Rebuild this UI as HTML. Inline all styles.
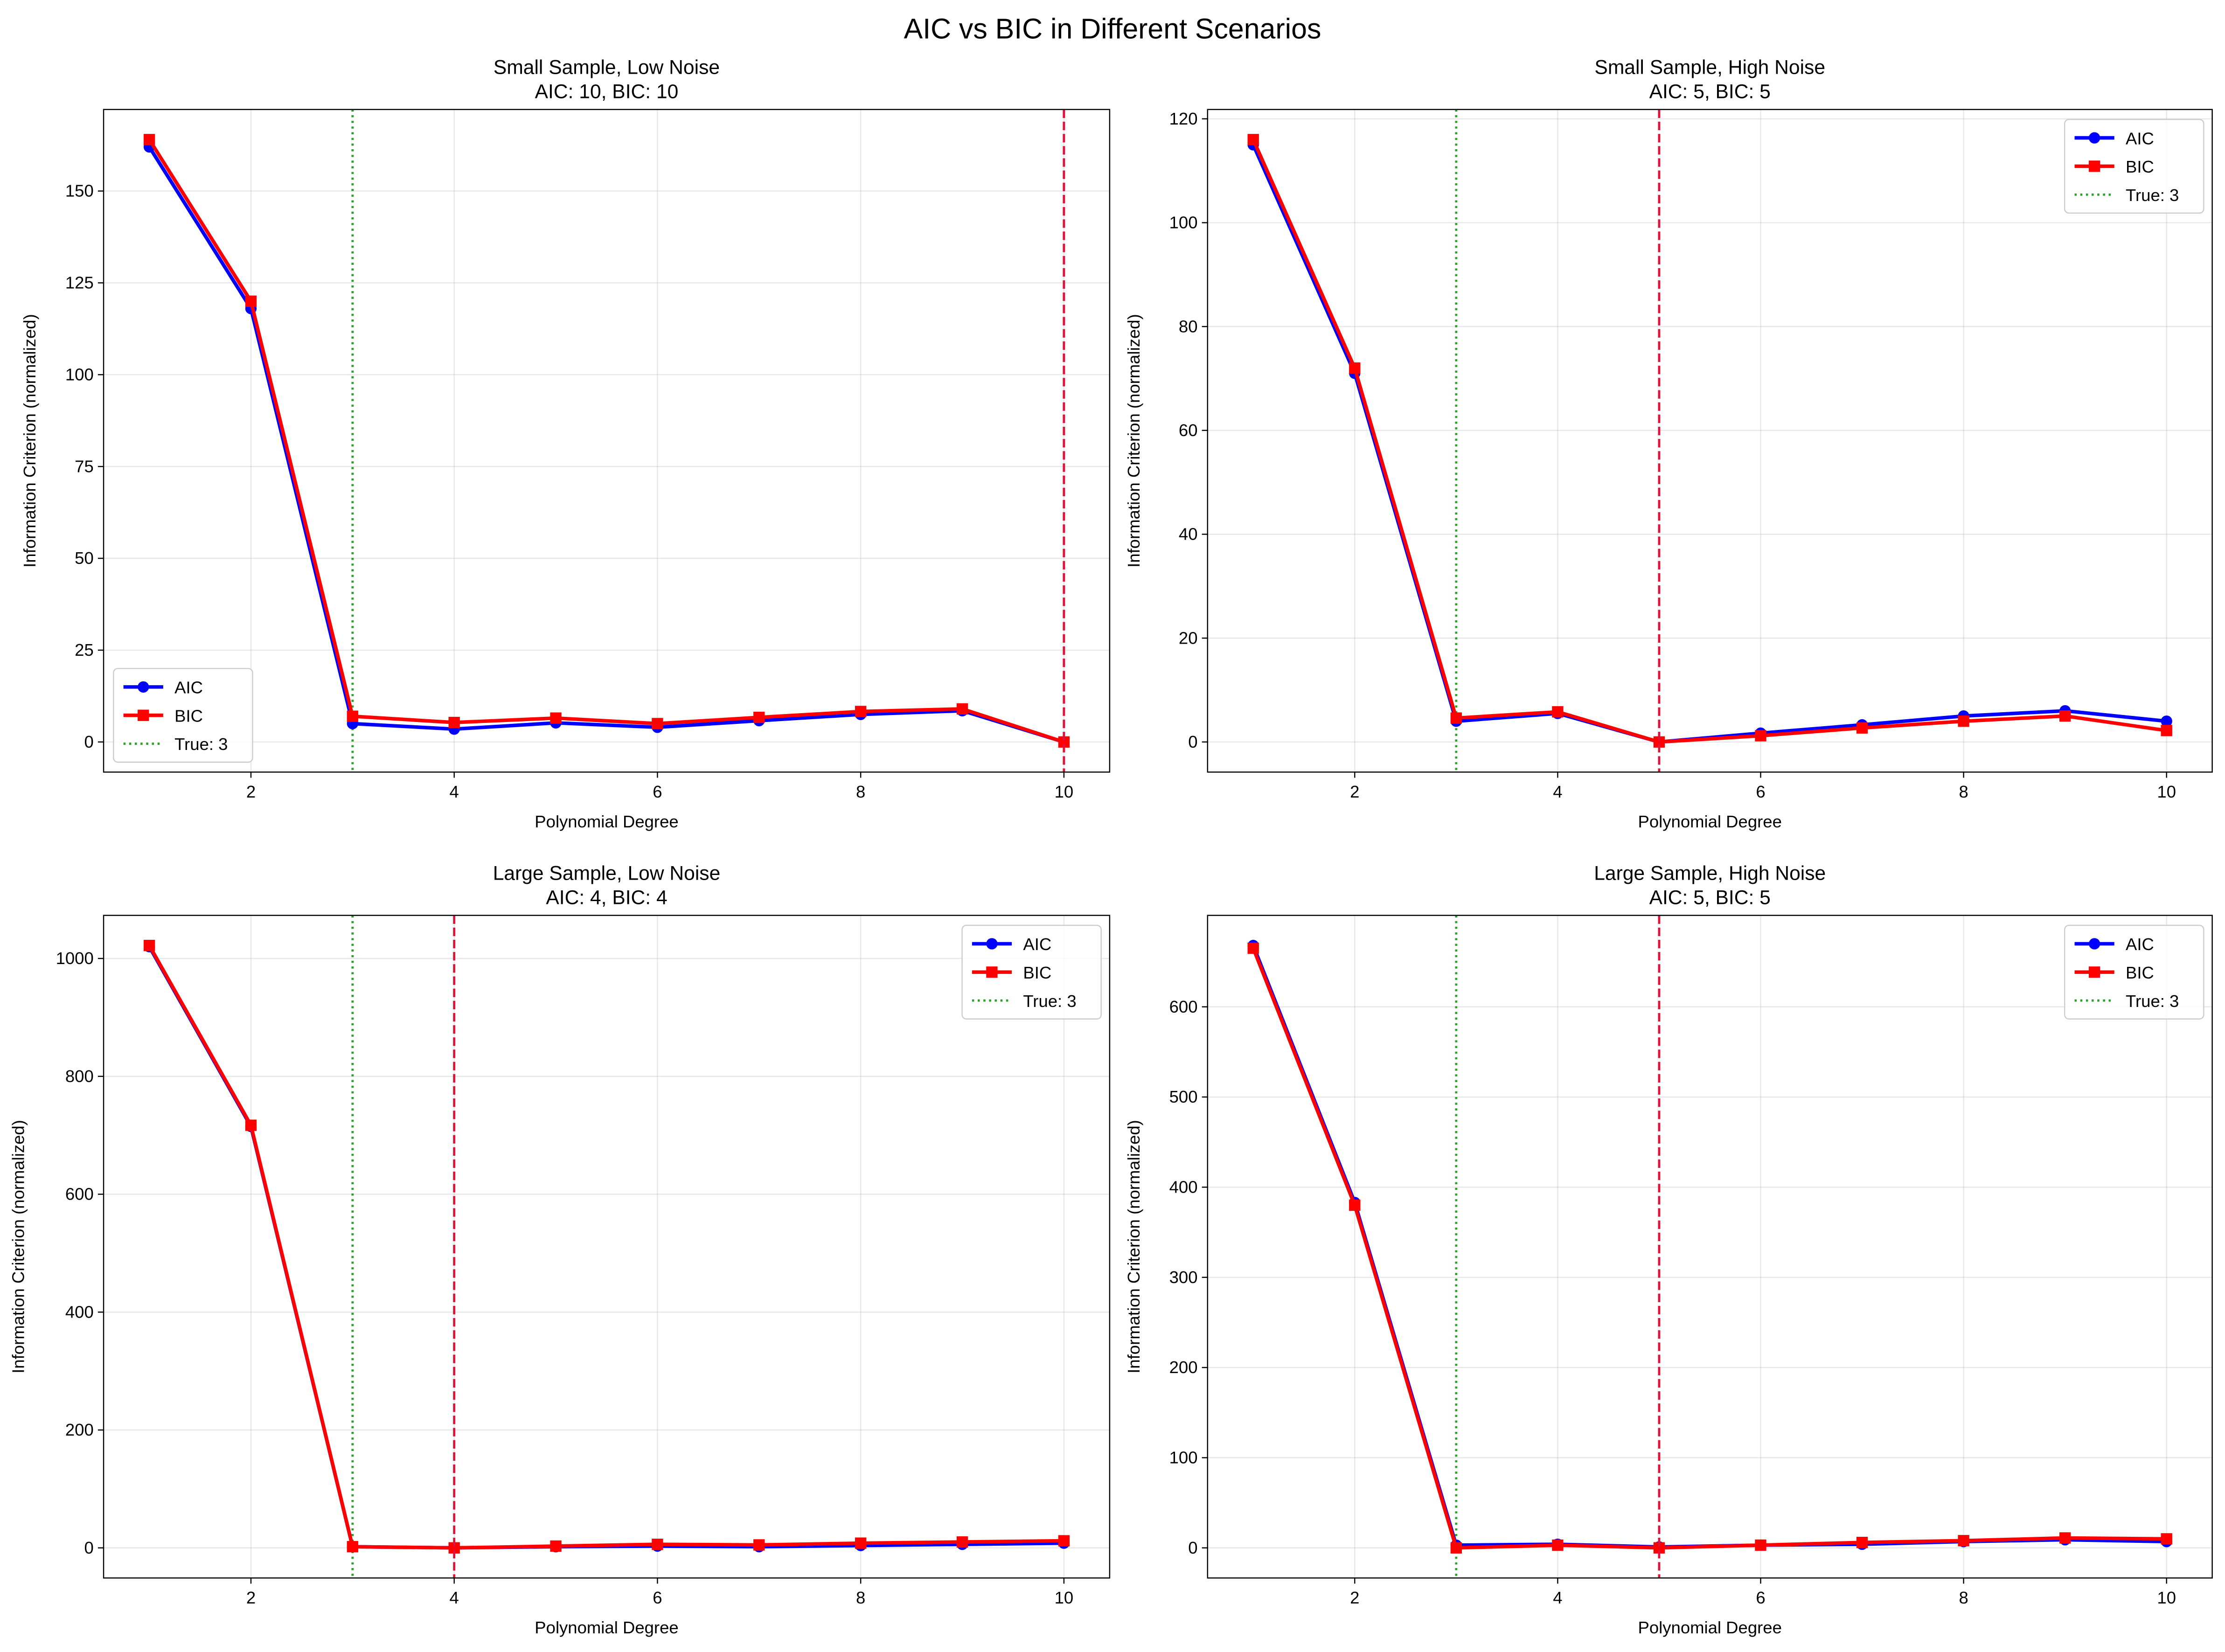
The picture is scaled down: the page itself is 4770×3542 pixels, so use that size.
<!DOCTYPE html>
<html><head><meta charset="utf-8"><style>
html,body{margin:0;padding:0;background:#fff}
svg{display:block}
text{font-family:"Liberation Sans","DejaVu Sans",sans-serif;fill:#000}
</style></head><body>
<svg id="chart" width="4770" height="3542" viewBox="0 0 1568 1164" xmlns="http://www.w3.org/2000/svg">
<rect width="1568" height="1164" fill="#fff"/>
<text x="784" y="27" font-size="20" text-anchor="middle">AIC vs BIC in Different Scenarios</text>
</svg>
<script>
const degrees = [1,2,3,4,5,6,7,8,9,10];
const tlAIC = [162,118,5,3.5,5.2,4,5.8,7.5,8.5,0];
const tlBIC = [164,120,7,5.3,6.5,5,6.7,8.3,9,0];
const trAIC = [115,71,4,5.5,0,1.7,3.3,5,6,4];
const trBIC = [116,72,4.6,5.8,0,1.2,2.7,4,5,2.2];
const blAIC = [1020,715,2,0,2,3,2,4,6,8];
const blBIC = [1022,717,2,0,3,6,5,8,10,12];
const brAIC = [668,383,3,4,1,3,4,7,9,7];
const brBIC = [665,380,0,3,0,3,6,8,11,10];
const xTicks = [2,4,6,8,10];
const tlTicks = [0,25,50,75,100,125,150];
const trTicks = [0,20,40,60,80,100,120];
const blTicks = [0,200,400,600,800,1000];
const brTicks = [0,100,200,300,400,500,600];
const trueDegree = 3;
const selected = [10,5,4,5];
const titles = [["Small Sample, Low Noise","AIC: 10, BIC: 10"],["Small Sample, High Noise","AIC: 5, BIC: 5"],["Large Sample, Low Noise","AIC: 4, BIC: 4"],["Large Sample, High Noise","AIC: 5, BIC: 5"]];

const svg = document.getElementById('chart');
const NS = 'http://www.w3.org/2000/svg';
function mk(tag, attrs, parent){const e=document.createElementNS(NS,tag);for(const k in attrs)e.setAttribute(k,attrs[k]);(parent||svg).appendChild(e);return e;}

const panels = [
 {x0:73,x1:782,y0:77,y1:544,aic:tlAIC,bic:tlBIC,ticks:tlTicks,legend:'bl',ylx:25,name:'small-low'},
 {x0:851,x1:1559,y0:77,y1:544,aic:trAIC,bic:trBIC,ticks:trTicks,legend:'tr',ylx:803,name:'small-high'},
 {x0:73,x1:782,y0:645,y1:1112,aic:blAIC,bic:blBIC,ticks:blTicks,legend:'tr',ylx:17,name:'large-low'},
 {x0:851,x1:1559,y0:645,y1:1112,aic:brAIC,bic:brBIC,ticks:brTicks,legend:'tr',ylx:803,name:'large-high'}
];

panels.forEach((p,i)=>{
  const g = mk('g',{});
  
  
  const all = p.aic.concat(p.bic);
  const mn = Math.min(...all), mx = Math.max(...all), pad=(mx-mn)*0.05;
  const ylo=mn-pad, yhi=mx+pad;
  const xlo=0.55, xhi=10.45;
  const X = v=>p.x0+(v-xlo)/(xhi-xlo)*(p.x1-p.x0);
  const Y = v=>p.y1-(v-ylo)/(yhi-ylo)*(p.y1-p.y0);
  // grid
  xTicks.forEach(t=>{const l=mk('line',{x1:X(t),x2:X(t),y1:p.y0,y2:p.y1,stroke:'#b0b0b0','stroke-opacity':0.3,'stroke-width':0.8},g);
    });
  p.ticks.forEach(t=>{const l=mk('line',{x1:p.x0,x2:p.x1,y1:Y(t),y2:Y(t),stroke:'#b0b0b0','stroke-opacity':0.3,'stroke-width':0.8},g);
    });
  // ticks & labels
  xTicks.forEach(t=>{mk('line',{x1:X(t),x2:X(t),y1:p.y1,y2:p.y1+4,stroke:'#000','stroke-width':0.8},g);
    const tx=mk('text',{x:X(t),y:p.y1+18,'font-size':12,'text-anchor':'middle'},g);tx.textContent=t;
    });
  p.ticks.forEach(t=>{mk('line',{x1:p.x0-4,x2:p.x0,y1:Y(t),y2:Y(t),stroke:'#000','stroke-width':0.8},g);
    const tx=mk('text',{x:p.x0-7,y:Y(t)+4,'font-size':12,'text-anchor':'end'},g);tx.textContent=t;
    });
  // vertical lines
  const vt=mk('line',{x1:X(trueDegree),x2:X(trueDegree),y1:p.y0,y2:p.y1,stroke:'#2ca02c','stroke-width':1.6,'stroke-dasharray':'1.5,2.5'},g);
  
  // series
  function series(vals,color,marker,nm){
    const pl=mk('polyline',{points:degrees.map((d,k)=>X(d)+','+Y(vals[k])).join(' '),fill:'none',stroke:color,'stroke-width':2.5,'stroke-linejoin':'round'},g);
    
    degrees.forEach((d,k)=>{let m;
      if(marker==='o') m=mk('circle',{cx:X(d),cy:Y(vals[k]),r:4,fill:color},g);
      else m=mk('rect',{x:X(d)-4,y:Y(vals[k])-4,width:8,height:8,fill:color},g);
      });
  }
  series(p.aic,'#0000ff','o','aic');
  series(p.bic,'#ff0000','s','bic');
  const vs=mk('line',{x1:X(selected[i]),x2:X(selected[i]),y1:p.y0,y2:p.y1,stroke:'#dc143c','stroke-width':1.6,'stroke-dasharray':'6,2.6'},g);
  
  // frame
  const fr=mk('rect',{x:p.x0,y:p.y0,width:p.x1-p.x0,height:p.y1-p.y0,fill:'none',stroke:'#000','stroke-width':0.8},g);
  
  // titles
  const cx=(p.x0+p.x1)/2;
  const t1=mk('text',{x:cx,y:p.y0-25,'font-size':14,'text-anchor':'middle'},g);t1.textContent=titles[i][0];
  
  const t2=mk('text',{x:cx,y:p.y0-8,'font-size':14,'text-anchor':'middle'},g);t2.textContent=titles[i][1];
  
  const xl=mk('text',{x:cx,y:p.y1+39,'font-size':12,'text-anchor':'middle'},g);xl.textContent='Polynomial Degree';
  
  const cy=(p.y0+p.y1)/2;
  const yl=mk('text',{x:p.ylx,y:cy,'font-size':12,'text-anchor':'middle',transform:'rotate(-90 '+p.ylx+' '+cy+')'},g);yl.textContent='Information Criterion (normalized)';
  
  // legend
  const lw=98,lh=66;
  const lx = p.legend==='bl'? p.x0+7 : p.x1-lw-6;
  const ly = p.legend==='bl'? p.y1-lh-7 : p.y0+7;
  const lg=mk('g',{},g);
  
  mk('rect',{x:lx,y:ly,width:lw,height:lh,rx:3,fill:'#fff','fill-opacity':0.8,stroke:'#ccc','stroke-width':0.8},lg);
  const items=[['AIC','#0000ff','o'],['BIC','#ff0000','s'],['True: 3','#2ca02c','d']];
  items.forEach((it,k)=>{const yy=ly+13+k*20;const ent=mk('g',{},lg);
    
    if(it[2]==='d') mk('line',{x1:lx+7,x2:lx+35,y1:yy,y2:yy,stroke:it[1],'stroke-width':1.6,'stroke-dasharray':'1.5,2.5'},ent);
    else { mk('line',{x1:lx+7,x2:lx+35,y1:yy,y2:yy,stroke:it[1],'stroke-width':2.5},ent);
      if(it[2]==='o') mk('circle',{cx:lx+21,cy:yy,r:4,fill:it[1]},ent); else mk('rect',{x:lx+17,y:yy-4,width:8,height:8,fill:it[1]},ent);}
    const tx=mk('text',{x:lx+43,y:yy+4.5,'font-size':12},ent);tx.textContent=it[0];});
});
</script>
</body></html>
